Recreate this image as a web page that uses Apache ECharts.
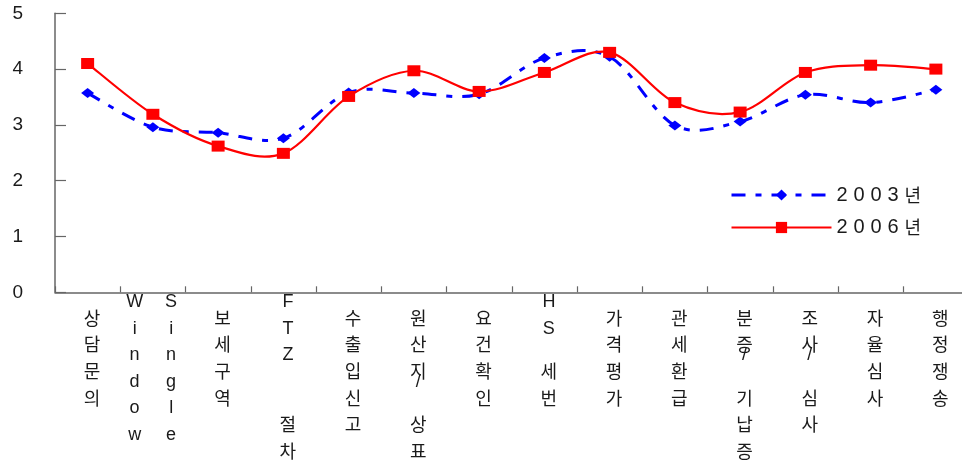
<!DOCTYPE html>
<html>
<head>
<meta charset="utf-8">
<script src="https://cdn.jsdelivr.net/npm/echarts@6/dist/echarts.min.js"></script>
<style>
  html, body { margin: 0; padding: 0; background: #fff; }
  #chart { width: 962px; height: 463px; }
</style>
</head>
<body>
<div id="chart"></div>
<script>
// Survey categories (x axis) and mean scores for the two survey years
const categories = ['상담문의', 'Window Single', '보세구역', 'FTZ 절차', '수출입신고', '원산지/상표', '요건확인',
                    'HS세번', '가격평가', '관세환급', '분증/기납증', '조사/심사', '자율심사', '행정쟁송'];
const values2003 = [3.57, 2.96, 2.86, 2.76, 3.58, 3.57, 3.55, 4.20, 4.22, 2.99, 3.06, 3.54, 3.40, 3.63];
const values2006 = [4.10, 3.19, 2.62, 2.49, 3.51, 3.97, 3.60, 3.94, 4.30, 3.40, 3.23, 3.94, 4.07, 4.00];
const seriesNames = ['2003년', '2006년'];
const yTicks = [0, 1, 2, 3, 4, 5];

const ROW = 26.6;          // height of one stacked character row
const LATIN_RISE = 16;     // latin glyphs sit higher in the vertical stack
const KR_FONT = '"Noto Sans CJK KR", "Noto Sans", sans-serif';
const LAT_FONT = '"Liberation Sans", Arial, sans-serif';

const BLUE = '#0000ff';
const RED = '#ff0000';
const blueLine = { color: BLUE, width: 3, type: [14, 10, 6, 10], opacity: 1 };
const redLine = { color: RED, width: 2.2, type: 'solid', opacity: 1 };

const isLatin = ch => /[\x21-\x7e]/.test(ch);

// Stack each category name vertically, one character per row.
// Pure latin names with a space are split into side-by-side columns.
function stackLabel(name) {
  const cols = (/^[A-Za-z ]+$/.test(name) && name.indexOf(' ') >= 0) ? name.split(' ') : [name];
  const suffix = cols.length > 1 ? '2' : '1';
  const rows = Math.max.apply(null, cols.map(c => c.length));
  const lines = [];
  for (let r = 0; r < rows; r++) {
    let line = '';
    cols.forEach(col => {
      const ch = col[r] || ' ';
      const kind = ch === ' ' ? 'b' : (isLatin(ch) ? 'l' : 'k');
      line += '{' + kind + suffix + '|' + ch + '}';
    });
    lines.push(line);
  }
  return lines.join('\n');
}

function labelRich() {
  const base = { color: '#1a1a1a', lineHeight: ROW };
  const k = Object.assign({}, base, { fontFamily: KR_FONT, fontSize: 18 });
  const l = Object.assign({}, base, { fontFamily: LAT_FONT, fontSize: 18,
                                      height: ROW + 2 * LATIN_RISE, verticalAlign: 'bottom' });
  const b = Object.assign({}, base, { fontFamily: LAT_FONT, fontSize: 18 });
  const shift = { padding: [0, 0, 0, 9] };
  const col = { width: 36.5, align: 'center' };
  return {
    k1: Object.assign({}, k, shift), l1: Object.assign({}, l, shift), b1: Object.assign({}, b, shift),
    k2: Object.assign({}, k, col),   l2: Object.assign({}, l, col),   b2: Object.assign({}, b, col)
  };
}

// Smooth curve through the data points (cubic Bezier, Catmull-Rom style tangents).
function curveRenderer(values) {
  return function (params, api) {
    const pts = values.map((v, i) => api.coord([i, v]));
    let d = 'M' + pts[0][0] + ' ' + pts[0][1];
    for (let i = 0; i < pts.length - 1; i++) {
      const p0 = pts[i - 1] || pts[i];
      const p1 = pts[i];
      const p2 = pts[i + 1];
      const p3 = pts[i + 2] || pts[i + 1];
      const c1x = p1[0] + (p2[0] - p0[0]) / 6, c1y = p1[1] + (p2[1] - p0[1]) / 6;
      const c2x = p2[0] - (p3[0] - p1[0]) / 6, c2y = p2[1] - (p3[1] - p1[1]) / 6;
      d += ' C' + c1x + ' ' + c1y + ' ' + c2x + ' ' + c2y + ' ' + p2[0] + ' ' + p2[1];
    }
    return {
      type: 'path',
      shape: { pathData: d },
      style: { fill: null, stroke: api.visual('color') }
    };
  };
}

function curveSeries(name, values, line, z) {
  return {
    name: name,
    type: 'custom',
    data: [0],
    renderItem: (params, api) => {
      const el = curveRenderer(values)(params, api);
      el.style.stroke = line.color;
      el.style.lineWidth = line.width;
      el.style.lineDash = Array.isArray(line.type) ? line.type : null;
      return el;
    },
    silent: true,
    z: z
  };
}

const chart = echarts.init(document.getElementById('chart'));
const axisColor = '#666';

chart.setOption({
  animation: false,
  backgroundColor: '#fff',
  grid: { left: 55, right: -6.5, top: 13.3, bottom: 170.7, containLabel: false, outerBoundsMode: 'none' },
  legend: {
    orient: 'vertical',
    left: 725,
    top: 180,
    itemWidth: 100,
    itemHeight: 14,
    itemGap: 12.5,
    selectedMode: false,
    data: [
      { name: seriesNames[0], lineStyle: blueLine },
      { name: seriesNames[1], lineStyle: redLine }
    ],
    formatter: name => name.split('').map(ch => (/\d/.test(ch) ? '{d|' : '{k|') + ch + '}').join(''),
    textStyle: {
      lineHeight: 20,
      rich: {
        d: { width: 17, fontSize: 20, fontFamily: LAT_FONT, color: '#1a1a1a', lineHeight: 20 },
        k: { fontSize: 18, fontFamily: KR_FONT, color: '#1a1a1a', lineHeight: 20 }
      }
    }
  },
  xAxis: {
    type: 'category',
    data: categories,
    boundaryGap: true,
    axisLine: { lineStyle: { color: axisColor, width: 1.5 } },
    axisTick: { show: true, inside: true, length: 6, lineStyle: { color: axisColor, width: 1.2 } },
    axisLabel: {
      interval: 0,
      hideOverlap: false,
      margin: 12.4,
      lineHeight: ROW,
      fontFamily: KR_FONT,
      formatter: stackLabel,
      rich: labelRich()
    },
    splitLine: { show: false }
  },
  yAxis: {
    type: 'value',
    min: yTicks[0],
    max: yTicks[yTicks.length - 1],
    interval: 1,
    axisLine: { show: true, lineStyle: { color: axisColor, width: 1.5 } },
    axisTick: { show: true, inside: true, length: 11, lineStyle: { color: axisColor, width: 1.2 } },
    axisLabel: { margin: 32, fontSize: 19, fontFamily: LAT_FONT, color: '#1a1a1a' },
    splitLine: { show: false }
  },
  series: [
    curveSeries('curve2003', values2003, blueLine, 2),
    {
      name: seriesNames[0],
      type: 'line',
      data: values2003,
      symbol: 'diamond',
      symbolSize: [13, 10],
      lineStyle: Object.assign({}, blueLine, { opacity: 0 }),
      itemStyle: { color: BLUE },
      z: 3
    },
    curveSeries('curve2006', values2006, redLine, 4),
    {
      name: seriesNames[1],
      type: 'line',
      data: values2006,
      symbol: 'rect',
      symbolSize: [13, 11],
      lineStyle: Object.assign({}, redLine, { opacity: 0 }),
      itemStyle: { color: RED },
      z: 5
    }
  ]
});
</script>
</body>
</html>
